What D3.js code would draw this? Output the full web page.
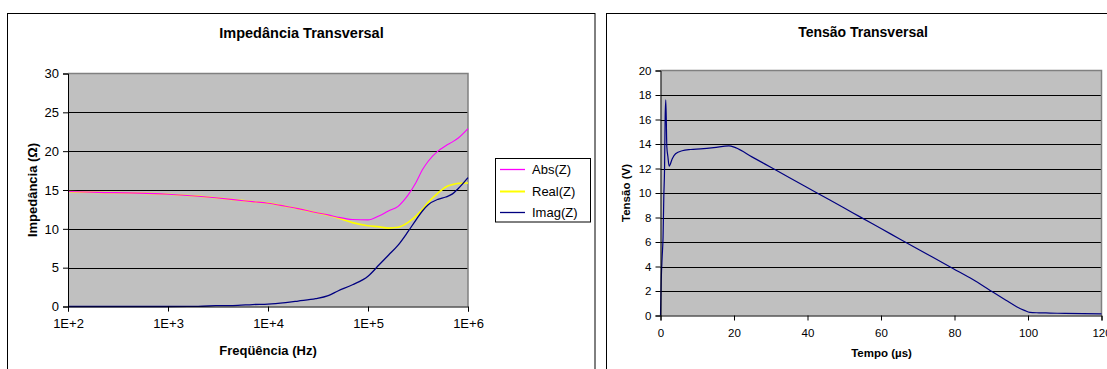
<!DOCTYPE html>
<html>
<head>
<meta charset="utf-8">
<script src="https://cdn.jsdelivr.net/npm/d3@7"></script>
<style>
  html, body { margin: 0; padding: 0; background: #fff; }
  svg { display: block; font-family: "Liberation Sans", Arial, sans-serif; }
</style>
</head>
<body>
<svg id="chart" width="1107" height="369"></svg>
<script>
// ---------- Data: Impedância Transversal ----------
const freqHz = [100, 200, 500, 1000, 2000, 3000, 5000, 7000, 1e4, 1.5e4, 2e4, 3e4, 4e4, 5e4, 7e4,
  1e5, 1.3e5, 1.6e5, 2e5, 2.5e5, 3e5, 3.5e5, 4e5, 5e5, 6e5, 7e5, 8e5, 1e6];
const absZ  = [14.8, 14.7, 14.6, 14.45, 14.2, 14.0, 13.7, 13.5, 13.3, 12.9, 12.6, 12.1, 11.8, 11.5, 11.2,
  11.15, 11.7, 12.3, 12.9, 14.3, 15.9, 17.6, 18.7, 20.0, 20.7, 21.2, 21.7, 22.9];
const realZ = [14.8, 14.7, 14.6, 14.45, 14.2, 14.0, 13.7, 13.5, 13.3, 12.9, 12.6, 12.1, 11.75, 11.4, 10.8,
  10.4, 10.25, 10.1, 10.2, 10.8, 11.6, 12.5, 13.4, 14.6, 15.4, 15.7, 15.85, 15.9];
const imagZ = [0, 0, 0, 0, 0.02, 0.1, 0.15, 0.25, 0.3, 0.5, 0.7, 1.0, 1.4, 2.0, 2.8,
  3.9, 5.4, 6.6, 7.9, 9.6, 11.1, 12.3, 13.1, 13.8, 14.1, 14.5, 15.2, 16.6];
const seriesNames = ["Abs(Z)", "Real(Z)", "Imag(Z)"];
const seriesColors = ["#FF00FF", "#FFFF00", "#000080"];
const impTicks = [0, 5, 10, 15, 20, 25, 30];
const freqTicks = [1e2, 1e3, 1e4, 1e5, 1e6];
const freqTickLabels = ["1E+2", "1E+3", "1E+4", "1E+5", "1E+6"];

// ---------- Data: Tensão Transversal ----------
const tempoUs = [0, 0.2, 0.45, 0.7, 0.9, 1.1, 1.27, 1.45, 1.72, 2.0, 2.36, 3.2, 4.1, 5.9, 8.2, 10.9, 14.5, 18.6, 20.4,
  25, 30, 35, 42.6, 50, 54.3, 60, 65.2, 70, 79.7, 85, 89.7, 94, 96.9, 99, 100.5, 103, 106, 110, 120];
const tensaoV = [0, 2.9, 4.8, 6.4, 9.7, 11.9, 16.2, 17.6, 13.8, 13.0, 12.2, 12.8, 13.2, 13.45, 13.55, 13.6, 13.7, 13.85, 13.7,
  12.93, 12.1, 11.27, 10.0, 8.77, 8.05, 7.1, 6.23, 5.43, 3.82, 2.93, 2.05, 1.25, 0.72, 0.42, 0.25, 0.22, 0.2, 0.17, 0.13];
const tensaoTicks = [0, 2, 4, 6, 8, 10, 12, 14, 16, 18, 20];
const tempoTicks = [0, 20, 40, 60, 80, 100, 120];

const FONT = "Liberation Sans, Arial, sans-serif";
const svg = d3.select("#chart");
svg.append("rect").attr("width", 1107).attr("height", 369).attr("fill", "#fff");

// ================= LEFT CHART =================
{
  const g = svg.append("g");
  g.append("rect").attr("x", 7.5).attr("y", 13.5).attr("width", 587.5).attr("height", 400)
    .attr("fill", "#fff").attr("stroke", "#000").attr("stroke-width", 1);

  const L = 68, R = 468, T = 73.5, B = 306.5;
  const x = d3.scaleLog().domain([1e2, 1e6]).range([L, R]);
  const y = d3.scaleLinear().domain([0, 30]).range([B, T]);

  g.append("rect").attr("x", L).attr("y", T).attr("width", R - L).attr("height", B - T).attr("fill", "#C0C0C0");
  g.selectAll(".grid").data(impTicks.filter(d => d > 0 && d < 30)).join("line")
    .attr("x1", L).attr("x2", R).attr("y1", d => Math.round(y(d)) + 0.5).attr("y2", d => Math.round(y(d)) + 0.5)
    .attr("stroke", "#000").attr("stroke-width", 1);
  g.append("path").attr("d", `M${L},${T}H${R}V${B}`).attr("fill", "none").attr("stroke", "#808080").attr("stroke-width", 1.5);

  // series: Real drawn under Abs so the overlap blends to orange, Imag on top
  const order = [1, 0, 2];
  const widths = [1.1, 1.7, 1.3];
  const ser = [absZ, realZ, imagZ];
  order.forEach(i => {
    const line = d3.line().x((d, k) => x(freqHz[k])).y(d => y(d)).curve(d3.curveMonotoneX);
    g.append("path").datum(ser[i]).attr("d", line).attr("fill", "none")
      .attr("stroke", seriesColors[i]).attr("stroke-width", widths[i]);
  });

  const yAxis = d3.axisLeft(y).tickValues(impTicks).tickSize(5).tickPadding(4);
  const ya = g.append("g").attr("transform", `translate(${L},0)`).call(yAxis);
  ya.select(".domain").attr("stroke", "#000");
  ya.selectAll("text").attr("font-size", 13).attr("fill", "#000").attr("font-family", FONT);

  const xAxis = d3.axisBottom(x).tickValues(freqTicks).tickFormat((d, i) => freqTickLabels[i]).tickSize(5).tickPadding(7);
  const xa = g.append("g").attr("transform", `translate(0,${B})`).call(xAxis);
  xa.select(".domain").attr("stroke", "#000");
  xa.selectAll("text").attr("font-size", 13).attr("fill", "#000").attr("font-family", FONT);

  g.append("text").attr("x", 301.5).attr("y", 38).attr("text-anchor", "middle")
    .attr("font-size", 14.5).attr("font-weight", "bold").text("Impedância Transversal");
  g.append("text").attr("x", 268).attr("y", 355).attr("text-anchor", "middle")
    .attr("font-size", 13).attr("font-weight", "bold").text("Freqüência (Hz)");
  g.append("text").attr("transform", "translate(37,190) rotate(-90)").attr("text-anchor", "middle")
    .attr("font-size", 13).attr("font-weight", "bold").text("Impedância (Ω)");

  const lg = g.append("g");
  lg.append("rect").attr("x", 495.5).attr("y", 158.5).attr("width", 95).attr("height", 63.5)
    .attr("fill", "#fff").attr("stroke", "#000").attr("stroke-width", 1);
  const ly = [169, 191, 212];
  seriesNames.forEach((n, i) => {
    lg.append("line").attr("x1", 500).attr("x2", 525).attr("y1", ly[i] + 0.5).attr("y2", ly[i] + 0.5)
      .attr("stroke", seriesColors[i]).attr("stroke-width", i === 1 ? 2 : 1.3);
    lg.append("text").attr("x", 532).attr("y", ly[i] + 4.5).attr("font-size", 13).text(n);
  });
}

// ================= RIGHT CHART =================
{
  const g = svg.append("g");
  g.append("rect").attr("x", 606.5).attr("y", 13.5).attr("width", 600).attr("height", 400)
    .attr("fill", "#fff").attr("stroke", "#000").attr("stroke-width", 1);

  const L = 660.5, R = 1101.5, T = 70.5, B = 315.5;
  const x = d3.scaleLinear().domain([0, 120]).range([L, R]);
  const y = d3.scaleLinear().domain([0, 20]).range([B, T]);

  g.append("rect").attr("x", L).attr("y", T).attr("width", R - L).attr("height", B - T).attr("fill", "#C0C0C0");
  g.selectAll(".grid").data(tensaoTicks.filter(d => d > 0 && d < 20)).join("line")
    .attr("x1", L).attr("x2", R).attr("y1", d => Math.round(y(d)) + 0.5).attr("y2", d => Math.round(y(d)) + 0.5)
    .attr("stroke", "#000").attr("stroke-width", 1);
  g.append("path").attr("d", `M${L},${T}H${R}V${B}`).attr("fill", "none").attr("stroke", "#808080").attr("stroke-width", 1.5);

  const line = d3.line().x((d, k) => x(tempoUs[k])).y(d => y(d)).curve(d3.curveMonotoneX);
  g.append("path").datum(tensaoV).attr("d", line).attr("fill", "none")
    .attr("stroke", "#000080").attr("stroke-width", 1.2);

  const yAxis = d3.axisLeft(y).tickValues(tensaoTicks).tickSize(5).tickPadding(4);
  const ya = g.append("g").attr("transform", `translate(${L},0)`).call(yAxis);
  ya.select(".domain").attr("stroke", "#000");
  ya.selectAll("text").attr("font-size", 11.5).attr("fill", "#000").attr("font-family", FONT);

  const xAxis = d3.axisBottom(x).tickValues(tempoTicks).tickSize(5).tickPadding(8);
  const xa = g.append("g").attr("transform", `translate(0,${B})`).call(xAxis);
  xa.select(".domain").attr("stroke", "#000");
  xa.selectAll("text").attr("font-size", 11.5).attr("fill", "#000").attr("font-family", FONT);

  g.append("text").attr("x", 863).attr("y", 37).attr("text-anchor", "middle")
    .attr("font-size", 14).attr("font-weight", "bold").text("Tensão Transversal");
  g.append("text").attr("x", 881.5).attr("y", 357).attr("text-anchor", "middle")
    .attr("font-size", 11.5).attr("font-weight", "bold").text("Tempo (µs)");
  g.append("text").attr("transform", "translate(630,193) rotate(-90)").attr("text-anchor", "middle")
    .attr("font-size", 11.5).attr("font-weight", "bold").text("Tensão (V)");
}
</script>
</body>
</html>
